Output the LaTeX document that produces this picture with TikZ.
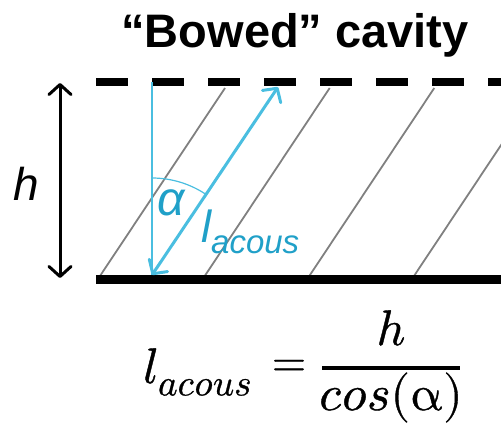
\documentclass[tikz,border=0pt]{standalone}
\usepackage{fontspec}
\usepackage{unicode-math}
\setmainfont{Liberation Sans}
\setmathfont{Latin Modern Math}[FakeBold=0.8]
\usetikzlibrary{arrows.meta}
\definecolor{cyanline}{RGB}{74,190,224}
\definecolor{cyantext}{RGB}{32,160,200}
\definecolor{grayline}{RGB}{128,128,128}
\begin{document}
\begin{tikzpicture}[x=1pt,y=-1pt,
  wall/.style={line width=8.5pt},
  ray/.style={grayline,line width=1.8pt},
  dblarrow/.style={line width=3pt,{Straight Barb[length=10pt,width=22pt,round]}-{Straight Barb[length=10pt,width=22pt,round]}},
  plain/.style={inner sep=0pt},
  mathtxt/.style={plain,font=\fontsize{50}{54}\selectfont}]
\useasboundingbox (0,0) rectangle (501,424);
% title
\node[plain,anchor=base,font=\fontsize{47}{50}\selectfont\bfseries] (title) at (295,47) {“Bowed” cavity};
% walls
\coordinate (tl) at (96,82);
\coordinate (tr) at (501,82);
\coordinate (bl) at (96,279.5);
\coordinate (br) at (501,279.5);
% gray rays
\begin{scope}
\clip (0,0) rectangle (501,424);
\foreach \xx [count=\i] in {100,204.7,309.3,414} {
  \coordinate (rb\i) at (\xx,276);
  \coordinate (rt\i) at (\xx+125,88);
  \draw[ray] (rb\i) -- (rt\i);
}
\end{scope}
\draw[wall,dash pattern=on 32pt off 24pt] (tl) -- (tr);
\draw[wall,line width=9pt] (bl) -- (br);
% height arrow
\coordinate (ht) at (60,83);
\coordinate (hb) at (60,278);
\draw[dblarrow] (ht) -- (hb);
\node[plain,anchor=base,font=\fontsize{46}{50}\selectfont\itshape] (hlab) at (26,200) {h};
% cyan geometry
\coordinate (vt) at (152,82);
\coordinate (vb) at (152,275);
\coordinate (at) at (278,87);
\draw[cyanline,line width=1.5pt] (vt) -- (vb);
\draw[cyanline,dblarrow] (vb) -- (at);
\draw[cyanline,line width=1.2pt] plot[domain=56.2:90,samples=40] ({152+97*cos(\x)},{275-97*sin(\x)});
\node[plain,anchor=base,text=cyantext,font=\fontsize{48}{52}\selectfont\itshape] (alpha) at (171,215) {α};
\node[plain,anchor=base west,text=cyantext,font=\fontsize{45}{48}\selectfont\itshape] (lac) at (201,242) {l\raisebox{-11pt}{\fontsize{33}{36}\selectfont acous}};
% formula
\node[mathtxt,anchor=base west] (lhs) at (143,383) {$l_{\hbox{\fontsize{37}{40}\selectfont$acous$}}$};
\node[plain,font=\fontsize{44}{48}\selectfont] (eq) at (289,368) {$=$};
\node[mathtxt,anchor=base] (num) at (391,345) {$h$};
\coordinate (barl) at (322,368);
\coordinate (barr) at (460,368);
\draw[line width=3.5pt] (barl) -- (barr);
\node[mathtxt,anchor=base] (den) at (391,410) {$cos(\symup{\alpha})$};
\end{tikzpicture}
\end{document}
